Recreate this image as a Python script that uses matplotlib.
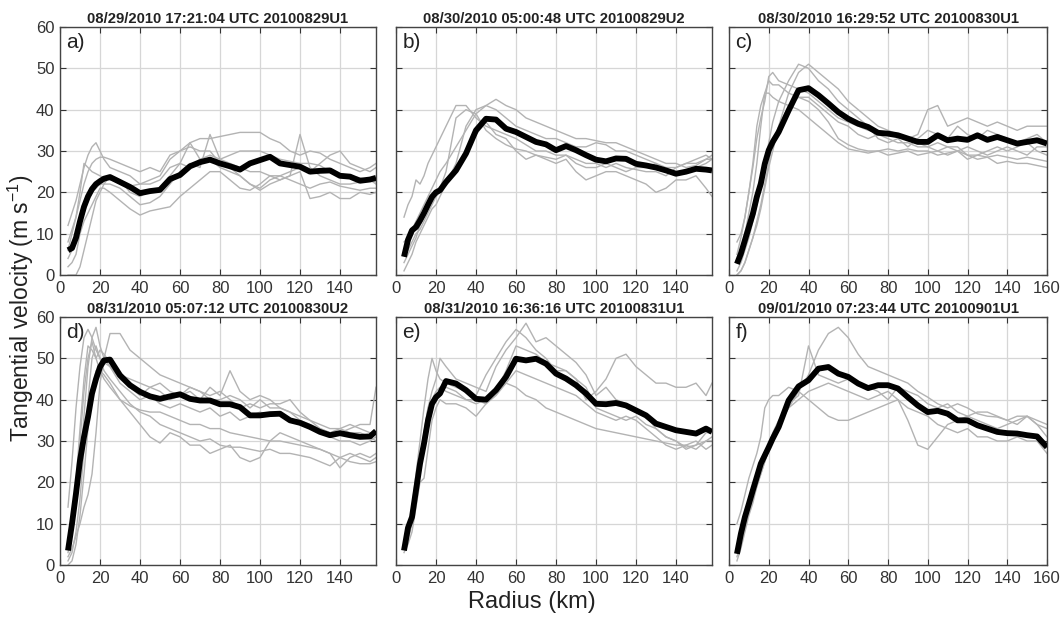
import matplotlib
matplotlib.use('Agg')
import matplotlib.pyplot as plt

plt.rcParams['font.family'] = ['Liberation Sans', 'DejaVu Sans']
plt.rcParams['mathtext.default'] = 'regular'

# ========= data ==========================================
# radius grids (km)
r_158 = [4, 6, 8, 10, 12, 14, 16, 18, 20, 22, 25] + list(range(30, 160, 5)) + [158]
r_160 = [4, 6, 8, 10, 12, 14, 16, 18, 20, 22, 25] + list(range(30, 160, 5)) + [160]

titles = ['08/29/2010 17:21:04 UTC 20100829U1',
          '08/30/2010 05:00:48 UTC 20100829U2',
          '08/30/2010 16:29:52 UTC 20100830U1',
          '08/31/2010 05:07:12 UTC 20100830U2',
          '08/31/2010 16:36:16 UTC 20100831U1',
          '09/01/2010 07:23:44 UTC 20100901U1']
panel_labels = ['a)', 'b)', 'c)', 'd)', 'e)', 'f)']

# mean profiles (m/s)
mean_a = [6, 6.5, 9, 13, 16.5, 19, 20.8, 22, 22.7, 23.3, 23.7,
          22.5, 21.3, 19.8, 20.3, 20.6, 23.2, 24.2, 26.3, 27.3, 27.9,
          27, 26.3, 25.5, 27, 27.8, 28.6, 27, 26.6, 26.2,
          25, 25.2, 25.3, 24, 23.8, 22.8, 23.1, 23.5]
mean_b = [4.4, 8.5, 10.8, 11.6, 13.2, 15, 17, 18.9, 20, 20.5, 22.5,
          25.3, 29.4, 35, 37.8, 37.6, 35.4, 34.6, 33.4, 32.2, 31.6,
          30.2, 31.2, 30.2, 29, 27.9, 27.5, 28.2, 28.1, 26.9,
          26.5, 26, 25.3, 24.5, 25, 25.7, 25.5, 25.3]
mean_c = [2.7, 5.2, 8.4, 11.6, 14.8, 18.9, 22.1, 26.9, 30.2, 32.2, 34.6,
          39.8, 44.7, 45.2, 43.5, 41.5, 39.4, 37.8, 36.6, 35.8, 34.4,
          34.2, 33.8, 33, 32.2, 32.2, 33.8, 32.6, 33, 32.7,
          33.8, 32.7, 33.4, 32.6, 31.8, 32.2, 32.6, 31.8]
mean_d = [3.5, 10, 17.3, 25.3, 31, 35.8, 41.5, 45, 47.9, 49.5, 49.7,
          45.9, 43.5, 41.9, 40.8, 40.2, 40.8, 41.3, 40.2, 39.8, 39.8,
          38.9, 38.9, 38.2, 36.2, 36.2, 36.5, 36.6, 35, 34.4,
          33.4, 32.2, 31.4, 31.9, 31.4, 31, 31.1, 32.4]
mean_e = [3.5, 9, 11.6, 18.1, 24.5, 29.4, 35, 39, 40.6, 41.5, 44.5,
          43.9, 42.3, 40.2, 40, 42.3, 45.5, 49.9, 49.5, 49.9, 48.7,
          46.3, 45.1, 43.5, 41.5, 39, 38.9, 39.2, 38.6, 37.4,
          36.2, 34.2, 33.4, 32.6, 32.2, 31.8, 33, 32.2]
mean_f = [2.7, 7.6, 11.6, 14.8, 18.1, 21.3, 24.5, 26.5, 28.5, 30.6, 33.4,
          39.8, 43.2, 44.7, 47.5, 47.9, 46.3, 45.5, 43.9, 42.8, 43.5,
          43.5, 42.7, 40.6, 38.6, 37, 37.3, 36.6, 35, 35,
          33.8, 33, 32.2, 31.9, 31.8, 31.4, 31.1, 28.5]

# individual profiles (m/s)
grey_a = [
    [12, 15, 18, 22, 26, 29, 31, 32, 30, 28, 26,
     25, 24, 22, 23, 24, 28, 30, 31, 30, 30,
     27, 26, 24, 22, 21, 23, 24, 25, 26,
     25, 27, 29, 30, 27, 26, 25, 26],
    [8, 11, 14, 18, 22, 25, 27, 28, 28.5, 28.5, 28,
     27, 26, 25, 26, 25, 29, 30, 32, 33, 33,
     33.5, 34, 34.5, 34.5, 34.5, 33, 32, 30, 29,
     30, 29.5, 28, 27, 26, 25, 26, 27],
    [2, 3, 5, 10, 13, 15, 17, 19, 21, 21, 20,
     18, 16, 14.5, 15.5, 16, 16.5, 19, 21, 23, 25,
     25, 23, 21, 20.5, 22, 24, 24, 23, 22,
     21, 22, 22.5, 21.5, 21, 20.5, 21, 21],
    [4, 6, 9, 12, 15, 18, 20, 21, 22, 22, 22,
     21, 19, 17, 17.5, 19, 22, 25, 27, 26, 34,
     28, 27, 26, 25, 25, 24, 23, 24, 34,
     26, 24, 23, 22, 22, 22.5, 23, 22],
    [0, 0, 0, 2, 6, 10, 14, 18, 20, 22, 24,
     23, 20, 19, 20.5, 21, 24, 27, 32, 28, 28,
     26, 25, 24, 22, 20.5, 22, 23, 24, 25,
     18.5, 19, 20, 18.5, 18.5, 20, 19.5, 20],
    [6, 10, 14, 20, 27, 26, 25, 24.5, 24, 23.5, 23,
     22.5, 21.5, 22, 22, 23, 26, 27, 26, 28, 29,
     28, 29, 30, 30, 30, 29, 28, 27.5, 27,
     27, 26.5, 25, 24.5, 24, 23.5, 23, 22.5],
]
grey_b = [
    [14, 17, 19, 23, 22, 24, 27, 29, 31, 33, 36,
     41, 41, 38, 36, 35, 34, 33, 31.5, 30, 30,
     29, 29, 27, 26, 26, 27, 26, 25, 26,
     26, 27, 26, 26, 27, 28, 29, 28],
    [8, 9, 11, 13, 15, 17, 19, 21, 23, 25, 27,
     31, 35, 39, 41, 42.5, 41, 40, 38, 37, 36,
     35, 34, 33, 33, 32.5, 32, 32, 31, 30,
     29, 28, 27, 27, 26, 26.5, 28, 29],
    [3, 5, 7, 9, 12, 14, 16, 18, 19, 20, 22,
     27, 36, 40, 41, 40, 38, 36, 35, 34, 33,
     33, 32, 31, 31, 32, 31.5, 30, 30, 29,
     28, 27, 25, 24, 25, 26, 27, 28],
    [1, 3, 5, 8, 10, 12, 14, 16, 17, 19, 22,
     26, 30, 34, 37, 34, 33, 30, 28, 29, 28,
     27, 28, 25, 23, 24, 25, 25, 24, 23,
     22, 20, 21, 23, 23, 24, 21, 19],
    [5, 6, 8, 10, 11, 13, 15, 17, 19, 21, 25,
     38, 40, 39, 35, 33, 31.5, 30.5, 30, 29, 28.5,
     28, 29, 28, 27, 27, 26, 27, 26, 25.5,
     25, 25, 24, 26, 27, 27, 28, 28],
]
grey_c = [
    [5, 9, 14, 20, 26, 33, 38, 42, 48, 49, 47,
     46, 45, 44, 42, 40, 38, 37, 36, 35, 34.5,
     34, 33.5, 33, 34, 40, 41, 36, 37, 38,
     37, 36, 37, 36, 35, 36, 36, 36],
    [0, 1, 3, 6, 9, 12, 16, 21, 26, 30, 36,
     44, 49, 51, 49, 47, 45, 42, 40, 38, 36,
     35, 34, 33, 32, 31, 32, 31, 30, 31,
     30, 29, 30, 31, 30, 29, 31, 31],
    [3, 6, 10, 15, 20, 27, 36, 44, 47, 46, 46,
     44, 43, 42, 40, 37, 33, 31.5, 30.5, 30, 30,
     30.5, 30, 30.5, 30, 30, 29, 29.5, 30, 29,
     28, 28.5, 29, 28.5, 28, 28.5, 28, 27.5],
    [0, 1, 3, 6, 9, 13, 17, 22, 27, 32, 36,
     41, 43, 43, 41, 39, 37, 36, 34, 33, 34,
     33, 32, 32, 31, 31, 30, 31, 31, 29,
     29, 30, 31, 30, 31, 32, 30, 29],
    [1, 3, 6, 9, 13, 17, 21, 27, 32, 37, 42,
     47, 51, 50, 47, 45, 42, 40, 38, 36, 33,
     32, 33, 31, 33, 35, 34, 33, 36, 34,
     33, 35, 34, 33, 32, 33, 34, 32],
    [8, 10, 14, 20, 27, 36, 41, 44, 44, 43, 42,
     41, 40, 38, 36, 34, 32, 30.5, 30, 29.5, 30,
     29, 29.5, 30, 29, 29.5, 30, 29, 30, 28,
     29, 28.5, 27, 27.5, 27, 27, 26.5, 26],
]
grey_d = [
    [14, 25, 38, 48, 55, 57, 55, 52, 50, 49, 48,
     44, 42, 40, 41, 39, 38, 39, 38, 37, 38,
     36, 37, 35, 36, 37, 36, 37, 35, 34,
     33, 32, 31, 30, 30, 29, 30, 31],
    [4, 8, 14, 24, 36, 48, 55, 57.5, 53, 50, 48,
     45, 43, 41, 43, 42, 40, 41, 42, 40, 43,
     41, 47, 42, 40, 41, 40, 38, 37, 36,
     35, 34, 33, 33, 34, 33, 32, 32],
    [2, 4, 7, 10, 14, 17, 22, 32, 44, 50, 56,
     56, 52, 50, 48, 46, 45, 44, 43, 42, 41,
     42, 40, 38, 39, 38, 39, 39, 40, 37,
     35, 33, 32, 33, 32, 32, 31, 30],
    [0, 1, 5, 12, 22, 33, 42, 47, 47, 46, 44,
     40, 38.5, 37.5, 37, 37, 36, 35, 34, 34, 33,
     33, 32, 31.5, 31, 30.5, 30, 30, 29.5, 29,
     28.5, 28, 27, 26, 25, 24.5, 24.5, 25],
    [3, 8, 18, 30, 42, 50, 54, 50, 47, 45, 43,
     40, 37, 34, 31, 29.5, 32, 31, 29, 29, 27,
     28, 29, 26, 25, 26, 30, 32, 31, 30,
     29, 28, 27, 23.5, 26, 27, 26, 27],
    [1, 3, 8, 16, 28, 40, 50, 53, 50, 47, 45,
     42, 39, 37, 36, 34, 33, 32, 31, 30, 30.5,
     29, 28.5, 28.5, 28, 27.5, 28, 27, 27, 26.5,
     26, 25, 24, 26, 27, 26, 25, 26],
    [5, 10, 20, 33, 45, 53, 52, 50, 52, 51, 49,
     46, 45, 44, 43, 44, 42, 41, 43, 42, 40,
     40, 41, 40, 38, 40, 38, 38, 37, 35,
     34, 33, 32, 32, 33, 34, 34, 43],
]
grey_e = [
    [5, 8, 14, 22, 30, 38, 45, 50, 47, 45, 44,
     43, 42, 41, 46, 50, 54, 57, 55, 52, 50,
     47, 47, 45, 43, 38, 37, 36, 35, 36,
     34, 33, 31, 30, 28, 29, 30, 31],
    [4, 6, 10, 16, 24, 32, 38, 42, 45, 50, 48,
     45, 44, 43, 42, 48, 52, 55, 58.5, 54, 55,
     53, 51, 49, 46, 41, 43, 40, 39, 37,
     36, 33, 31, 30, 28.5, 29, 32, 32],
    [6, 8, 13, 18, 22, 28, 34, 38, 40, 42, 43,
     42, 40, 39, 40, 42, 47, 53, 52, 51, 49,
     48, 47, 45, 40, 42, 45, 50, 51, 48,
     46, 44, 44, 43, 43, 44, 41, 44],
    [3, 5, 8, 14, 20, 21, 28, 35, 38, 40, 39,
     39, 38, 36, 39, 42, 44, 43, 41, 40, 38,
     37, 36, 35, 34, 33, 32.5, 32, 31.5, 31,
     30.5, 30, 29.5, 29, 29, 30, 28, 29],
    [4, 7, 11, 17, 25, 32, 38, 40, 42, 43, 42,
     41, 40, 40, 39, 41, 44, 47, 46, 45, 44,
     43, 42, 41, 39, 37, 36, 35, 36, 35,
     33, 31, 29, 28, 29, 28, 30, 30],
]
grey_f = [
    [10, 13, 17, 21, 24, 27, 31, 38, 40, 41, 41,
     43, 42, 40, 38, 36, 35, 35, 36, 37, 38,
     39, 40, 35, 29, 28, 31, 34, 35, 36,
     35, 34, 33, 34, 35, 36, 34, 31],
    [2, 5, 9, 13, 16, 19, 22, 25, 28, 31, 34,
     38, 42, 46, 52, 56, 57.5, 55, 51, 48, 47,
     46, 45, 44, 42, 40.6, 39, 38, 39, 38,
     36.6, 36, 35.8, 35, 36, 36, 34, 33],
    [3, 6, 10, 14, 17, 20, 23, 26, 29, 32, 35,
     39, 41, 53, 46, 45, 44, 45, 44, 43, 42,
     40, 43, 42, 41, 39, 38, 39, 37, 36,
     37, 37, 36, 35, 34, 36, 35, 34],
    [1, 4, 8, 12, 15, 19, 22, 25, 28, 31, 34,
     38, 40, 42, 43, 44, 43, 42, 41, 40, 41,
     42, 40, 38, 37, 36, 34, 33, 32, 33,
     31, 31, 30, 30, 31, 30, 30, 27],
]
# =========================================================


def main():
    fig = plt.figure(figsize=(10.63, 6.17), dpi=100)

    # axes boxes in figure fractions
    w1 = 316 / 1063
    w2 = 318 / 1063
    h = 248 / 617
    y_top = 1 - 275 / 617
    y_bot = 1 - 565 / 617
    boxes = [[60 / 1063, y_top, w1, h], [396 / 1063, y_top, w1, h], [729 / 1063, y_top, w2, h],
             [60 / 1063, y_bot, w1, h], [396 / 1063, y_bot, w1, h], [729 / 1063, y_bot, w2, h]]

    means = [mean_a, mean_b, mean_c, mean_d, mean_e, mean_f]
    greys = [grey_a, grey_b, grey_c, grey_d, grey_e, grey_f]
    grids = [r_158, r_158, r_160, r_158, r_158, r_160]
    xmax = [158, 158, 160, 158, 158, 160]

    txt_col = '#333333'

    for i in range(6):
        ax = fig.add_axes(boxes[i])
        r = grids[i]
        for v in greys[i]:
            n = min(len(r), len(v))
            ax.plot(r[:n], v[:n], color='#b3b3b3', lw=1.0, zorder=2)
        n = min(len(r), len(means[i]))
        ax.plot(r[:n], means[i][:n], color='black', lw=4.2, zorder=3,
                solid_joinstyle='round', solid_capstyle='butt')

        ax.set_xlim(0, xmax[i])
        ax.set_ylim(0, 60)
        ax.set_xticks(range(0, xmax[i] + 1, 20))
        ax.set_yticks(range(0, 61, 10))
        ax.grid(True, color='#d6d6d6', lw=0.9, zorder=0)
        ax.set_axisbelow(True)
        ax.tick_params(direction='in', length=4, width=0.8, top=True, right=True,
                       labelsize=12, colors=txt_col, pad=4)
        if i not in (0, 3):
            ax.set_yticklabels([])
        for s in ax.spines.values():
            s.set_color('#444444')
            s.set_linewidth(1.0)

        ax.set_title(titles[i], fontsize=10.7, fontweight='bold', pad=3, color='#222222')
        ax.text(0.02, 0.975, panel_labels[i], transform=ax.transAxes, fontsize=15,
                va='top', ha='left', color='#222222')

    fig.text(0.02, 0.5, 'Tangential velocity (m s$^{-1}$)', rotation=90,
             fontsize=16.5, va='center', ha='center', color='#222222')
    fig.text(0.5, 0.025, 'Radius (km)', fontsize=17, ha='center', va='center',
             color='#222222')

    fig.savefig('out.png', dpi=100)


if __name__ == "__main__":
    main()
